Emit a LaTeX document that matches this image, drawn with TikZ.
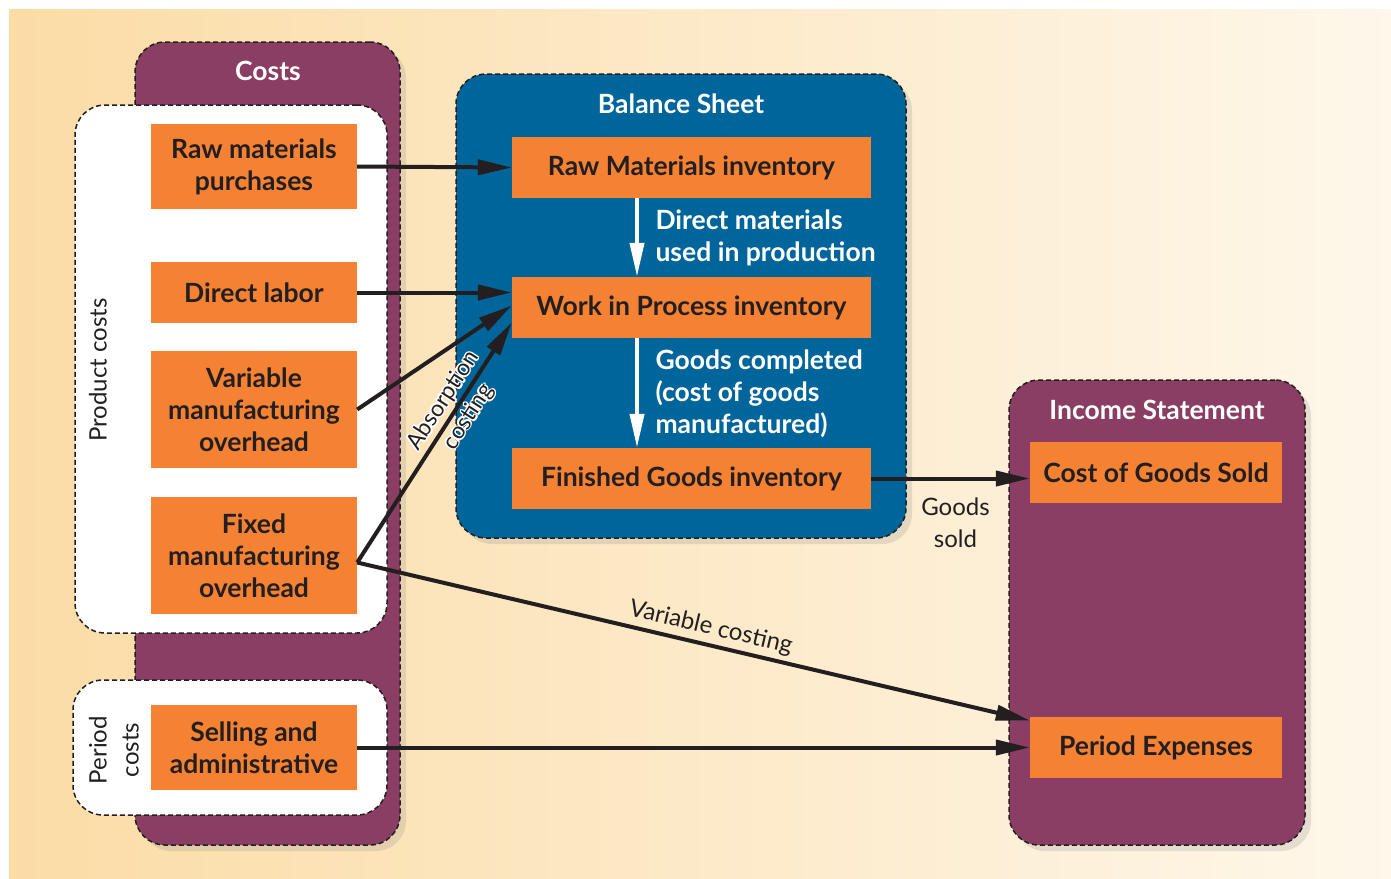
\documentclass[tikz,border=0pt]{standalone}
\usepackage{fontspec}
\setmainfont{Lato}
\usetikzlibrary{positioning, arrows.meta, shadows}
\definecolor{costplum}{HTML}{8A3E63}
\definecolor{sheetblue}{HTML}{00659A}
\definecolor{boxorange}{HTML}{F58233}
\definecolor{inkdark}{HTML}{231F20}
\definecolor{sandleft}{HTML}{FBDCA6}
\definecolor{sandright}{HTML}{FEF7EA}

% white outline round a word
\newcommand{\halo}[1]{\leavevmode%
    \rlap{\color{white}\kern1.6pt#1}%
    \rlap{\color{white}\kern-1.6pt#1}%
    \rlap{\color{white}\raisebox{1.6pt}{#1}}%
    \rlap{\color{white}\raisebox{-1.6pt}{#1}}%
    \rlap{\color{white}\kern1.1pt\raisebox{1.1pt}{#1}}%
    \rlap{\color{white}\kern-1.1pt\raisebox{1.1pt}{#1}}%
    \rlap{\color{white}\kern1.1pt\raisebox{-1.1pt}{#1}}%
    \rlap{\color{white}\kern-1.1pt\raisebox{-1.1pt}{#1}}%
    #1}

\begin{document}
\begin{tikzpicture}[
        x=1pt, y=-1pt,
        panel/.style={
            rectangle,
            draw=inkdark,
            line width=1.5pt,
            dash pattern=on 5pt off 3pt,
            rounded corners=30pt,
            drop shadow={shadow xshift=6pt, shadow yshift=-6pt, opacity=0.2}
        },
        subpanel/.style={
            rectangle,
            fill=white,
            draw=inkdark,
            line width=1.5pt,
            dash pattern=on 5pt off 3pt,
            rounded corners=30pt
        },
        title/.style={
            text=white,
            font=\bfseries\fontsize{26.5}{30}\selectfont
        },
        costbox/.style={
            rectangle,
            fill=boxorange,
            text=inkdark,
            align=center,
            inner sep=0pt,
            minimum width=206pt,
            font=\bfseries\fontsize{26.5}{32}\selectfont
        },
        invbox/.style={
            costbox,
            minimum width=359pt,
            minimum height=61pt
        },
        sidetext/.style={
            text=inkdark,
            align=center,
            font=\fontsize{24}{32}\selectfont
        },
        flowtext/.style={
            text=white,
            align=left,
            anchor=west,
            font=\bfseries\fontsize{26.5}{32}\selectfont
        },
        link/.style={
            -{Triangle[length=34pt, width=15pt]},
            draw=inkdark,
            line width=4pt
        },
        flow/.style={
            -{Triangle[length=34pt, width=14pt]},
            draw=white,
            line width=4pt
        }
    ]

        % page and background
        \useasboundingbox (0,0) rectangle (1391,878);
        \fill[white] (0,0) rectangle (1391,878);
        \shade[left color=sandleft, right color=sandright] (9,9) rectangle (1391,878);

        % costs column
        \node[panel, fill=costplum, minimum width=265pt, minimum height=803pt] (costs) at (267.5,443.5) {};
        \node[title] (coststitle) at (268,71) {Costs};
        \node[subpanel, minimum width=312pt, minimum height=528pt] (product) at (231,369) {};
        \node[subpanel, minimum width=314pt, minimum height=135pt] (period) at (230,747.5) {};
        \node[sidetext, rotate=90] (productlabel) at (98,370) {Product costs};
        \node[sidetext, rotate=90] (periodlabel) at (114,750) {Period\\costs};

        \node[costbox, minimum height=85pt] (rawbuy) at (254,166.5) {Raw materials\\purchases};
        \node[costbox, minimum height=61pt] (labor) at (254,292.5) {Direct labor};
        \node[costbox, minimum height=117pt] (varoh) at (254,409.5) {Variable\\manufacturing\\overhead};
        \node[costbox, minimum height=117pt] (fixoh) at (254,555.5) {Fixed\\manufacturing\\overhead};
        \node[costbox, minimum height=85pt] (selling) at (254,747.5) {Selling and\\administrative};

        % balance sheet
        \node[panel, fill=sheetblue, minimum width=450pt, minimum height=464pt] (sheet) at (681,306) {};
        \node[title] (sheettitle) at (681,104) {Balance Sheet};
        \node[invbox] (rawinv) at (691.5,167.5) {Raw Materials inventory};
        \node[invbox] (wip) at (691.5,307.5) {Work in Process inventory};
        \node[invbox] (fginv) at (691.5,478.5) {Finished Goods inventory};

        \draw[flow] ([xshift=-54.5pt]rawinv.south) -- ([xshift=-54.5pt]wip.north);
        \draw[flow] ([xshift=-54.5pt]wip.south) -- ([xshift=-54.5pt]fginv.north);
        \node[flowtext] (usedlabel) at (652,238) {Direct materials\\used in production};
        \node[flowtext] (donelabel) at (652,394) {Goods completed\\(cost of goods\\manufactured)};

        % income statement
        \node[panel, fill=costplum, minimum width=296pt, minimum height=465pt] (income) at (1157,612.5) {};
        \node[title] (incometitle) at (1157,410) {Income Statement};
        \node[invbox, minimum width=252pt] (cogs) at (1156,472.5) {Cost of Goods Sold};
        \node[invbox, minimum width=252pt] (periodexp) at (1156,747.5) {Period Expenses};

        % connectors
        \coordinate (fork) at ([yshift=-7pt]fixoh.east);
        \draw[link] (rawbuy.east) -- (rawinv.west);
        \draw[link] (labor.east) -- (labor.east -| wip.west);
        \draw[link] (varoh.east) -- ([yshift=2pt]wip.west);
        \draw[link] (fork) -- node[sidetext, sloped, pos=0.64, font=\fontsize{23}{30}\selectfont] (absorblabel) {\halo{Absorption}\\\halo{costing}} ([yshift=-15pt]wip.west);
        \draw[link] (fork) -- node[sidetext, sloped, above, pos=0.52, inner sep=4pt] (varlabel) {Variable costing} ([yshift=27pt]periodexp.west);
        \draw[link] (selling.east) -- (periodexp.west);
        \draw[link] (fginv.east) -- node[sidetext, below=14pt, xshift=5pt] (soldlabel) {Goods\\sold} (fginv.east -| cogs.west);

    \end{tikzpicture}
\end{document}
